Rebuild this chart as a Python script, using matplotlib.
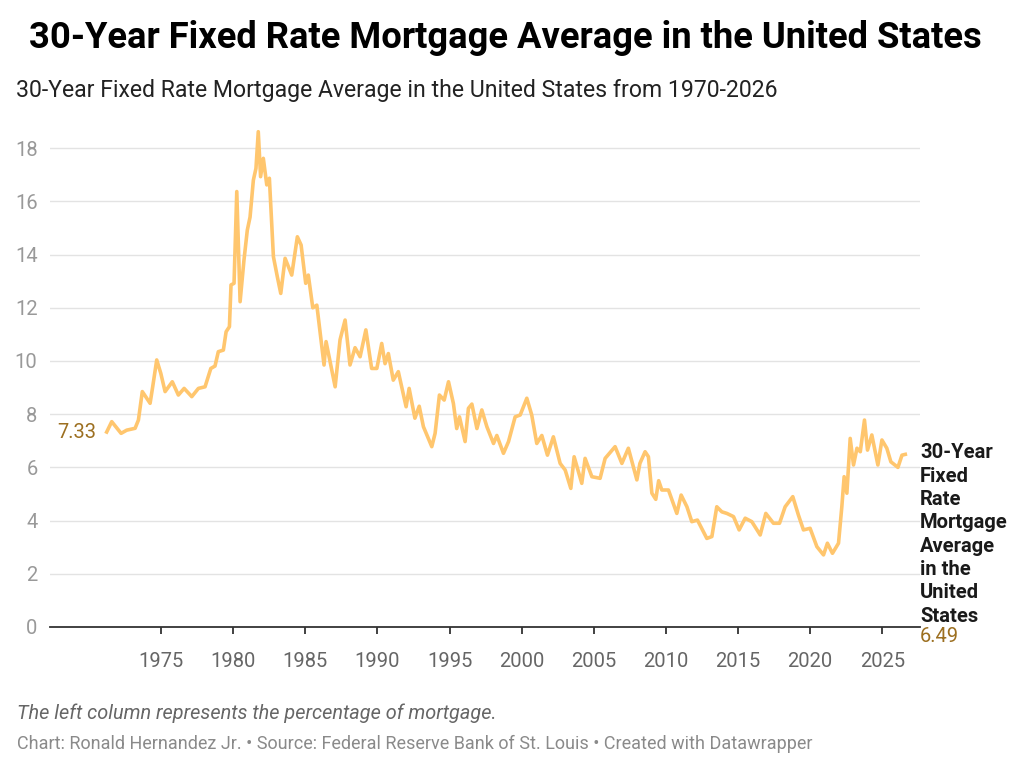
import matplotlib
matplotlib.use("Agg")
import matplotlib.pyplot as plt

# 30-year fixed mortgage rate (year, percent)
years = [1971.23, 1971.58, 1972.23, 1972.62, 1973.2, 1973.43, 1973.7, 1974.24, 1974.42,
         1974.7, 1974.98, 1975.28, 1975.78, 1976.2, 1976.6, 1977.13, 1977.59, 1978.05,
         1978.45, 1978.74, 1978.97, 1979.32, 1979.51, 1979.74, 1979.85, 1980.06, 1980.25,
         1980.48, 1980.75, 1980.98, 1981.17, 1981.4, 1981.58, 1981.74, 1981.9, 1982.09,
         1982.33, 1982.51, 1982.79, 1983.06, 1983.3, 1983.6, 1984.06, 1984.45, 1984.71,
         1985.03, 1985.21, 1985.52, 1985.8, 1986.1, 1986.3, 1986.44, 1986.72, 1987.07,
         1987.41, 1987.76, 1988.1, 1988.45, 1988.8, 1989.2, 1989.6, 1989.96, 1990.3,
         1990.53, 1990.76, 1991.1, 1991.45, 1991.99, 1992.2, 1992.6, 1992.9, 1993.19,
         1993.77, 1994.0, 1994.3, 1994.63, 1994.93, 1995.27, 1995.5, 1995.69, 1996.08,
         1996.31, 1996.55, 1996.9, 1997.24, 1997.59, 1998.05, 1998.28, 1998.74, 1999.09,
         1999.55, 1999.9, 2000.36, 2000.7, 2001.05, 2001.4, 2001.79, 2002.2, 2002.67,
         2003.02, 2003.41, 2003.64, 2004.17, 2004.4, 2004.87, 2005.44, 2005.79, 2006.48,
         2006.95, 2007.4, 2007.99, 2008.2, 2008.56, 2008.79, 2009.03, 2009.3, 2009.5,
         2009.72, 2010.18, 2010.76, 2011.06, 2011.46, 2011.8, 2012.19, 2012.84, 2013.19,
         2013.53, 2013.88, 2014.23, 2014.69, 2015.08, 2015.5, 2015.96, 2016.54, 2016.93,
         2017.46, 2017.88, 2018.27, 2018.8, 2019.19, 2019.54, 2020.0, 2020.47, 2020.93,
         2021.2, 2021.55, 2021.97, 2022.2, 2022.36, 2022.55, 2022.78, 2023.01, 2023.25,
         2023.48, 2023.77, 2023.98, 2024.28, 2024.7, 2024.98, 2025.32, 2025.6, 2026.09,
         2026.37, 2026.6]
rates = [7.33, 7.72, 7.28, 7.40, 7.47, 7.78, 8.85, 8.41, 9.03,
         10.04, 9.54, 8.85, 9.22, 8.72, 8.97, 8.66, 8.97, 9.03,
         9.72, 9.81, 10.35, 10.41, 11.10, 11.29, 12.86, 12.92, 16.37,
         12.23, 13.80, 14.92, 15.41, 16.80, 17.24, 18.62, 16.93, 17.62,
         16.62, 16.87, 13.92, 13.17, 12.54, 13.86, 13.23, 14.67, 14.36,
         12.92, 13.23, 12.00, 12.10, 10.73, 9.85, 10.73, 9.97, 9.03,
         10.80, 11.54, 9.85, 10.50, 10.16, 11.17, 9.72, 9.72, 10.66,
         9.90, 10.28, 9.28, 9.60, 8.28, 8.97, 7.85, 8.30, 7.53,
         6.78, 7.28, 8.72, 8.53, 9.22, 8.40, 7.46, 7.90, 6.97,
         8.22, 8.38, 7.46, 8.16, 7.53, 6.90, 7.20, 6.53, 6.97,
         7.90, 7.97, 8.60, 7.97, 6.90, 7.20, 6.46, 7.15, 6.15,
         5.90, 5.21, 6.40, 5.40, 6.34, 5.65, 5.59, 6.34, 6.78,
         6.15, 6.72, 5.53, 6.15, 6.59, 6.40, 5.03, 4.80, 5.50,
         5.15, 5.15, 4.27, 4.96, 4.52, 3.96, 4.02, 3.33, 3.40,
         4.52, 4.33, 4.27, 4.15, 3.65, 4.09, 3.96, 3.46, 4.27,
         3.90, 3.90, 4.52, 4.90, 4.21, 3.65, 3.71, 3.02, 2.71,
         3.15, 2.77, 3.15, 4.52, 5.65, 5.03, 7.09, 6.09, 6.72,
         6.59, 7.78, 6.65, 7.22, 6.09, 7.03, 6.72, 6.21, 6.00,
         6.46, 6.49]

year_ticks = [1975, 1980, 1985, 1990, 1995, 2000, 2005, 2010, 2015, 2020, 2025]
y_ticks = [0, 2, 4, 6, 8, 10, 12, 14, 16, 18]

title = "30-Year Fixed Rate Mortgage Average in the United States"
subtitle = "30-Year Fixed Rate Mortgage Average in the United States from 1970-2026"
note = "The left column represents the percentage of mortgage."
credit = ("Chart: Ronald Hernandez Jr. \u2022 Source: Federal Reserve Bank of St. Louis "
          "\u2022 Created with Datawrapper")
name_lines = ["30-Year", "Fixed", "Rate", "Mortgage", "Average", "in the", "United", "States"]

W, H = 1024, 771
LINE = "#ffc66e"
BROWN = "#9c6f20"
GRID = "#e3e3e3"

plt.rcParams['font.family'] = ['Roboto', 'DejaVu Sans']

fig = plt.figure(figsize=(W / 100, H / 100), dpi=100)

def fx(px):
    return px / W

def fy(py):
    return 1 - py / H

# axes box in pixels: left 50, right 920, y=0 at 627, top 121.6
ax = fig.add_axes([fx(50), fy(627), fx(920) - fx(50), (627 - 121.6) / H])
ax.set_xlim(1967.30, 2027.62)
ax.set_ylim(0, 19)

ax.plot(years, rates, color=LINE, lw=2.6, solid_joinstyle='round', zorder=3)

for s in ['top', 'right', 'left']:
    ax.spines[s].set_visible(False)
ax.spines['bottom'].set_color('#333333')
ax.spines['bottom'].set_linewidth(1.3)

ax.set_yticks(y_ticks)
ax.set_yticklabels([str(v) for v in y_ticks])
ax.tick_params(axis='y', length=0, pad=9, labelsize=14.5, labelcolor='#999999')
ax.yaxis.grid(True, color=GRID, lw=1)
ax.set_axisbelow(True)

ax.set_xticks(year_ticks)
ax.set_xticklabels([str(v) for v in year_ticks])
ax.tick_params(axis='x', length=5, width=1.3, color='#333333', pad=13,
               labelsize=14.5, labelcolor='#666666')

# endpoint labels
ax.text(years[0] - 0.7, rates[0], f"{rates[0]:.2f}", color=BROWN, fontsize=14.5,
        ha='right', va='center')

for i, t in enumerate(name_lines):
    fig.text(fx(920), fy(453 + i * 23.3), t, fontsize=14.5, fontweight='bold',
             color='#1a1a1a', ha='left', va='center')
fig.text(fx(920), fy(637), f"{rates[-1]:.2f}", fontsize=14.5, color=BROWN,
         ha='left', va='center')

fig.text(fx(505), fy(38), title, fontsize=26.2, fontweight='bold', color='black',
         ha='center', va='center')
fig.text(fx(16), fy(91), subtitle, fontsize=16.6, color='#222222', ha='left', va='center')
fig.text(fx(17), fy(713), note, fontsize=14.3, style='italic', color='#666666',
         ha='left', va='center')
fig.text(fx(17), fy(744), credit, fontsize=13, color='#8a8a8a', ha='left', va='center')

fig.savefig("out.png", dpi=100, facecolor='white')
